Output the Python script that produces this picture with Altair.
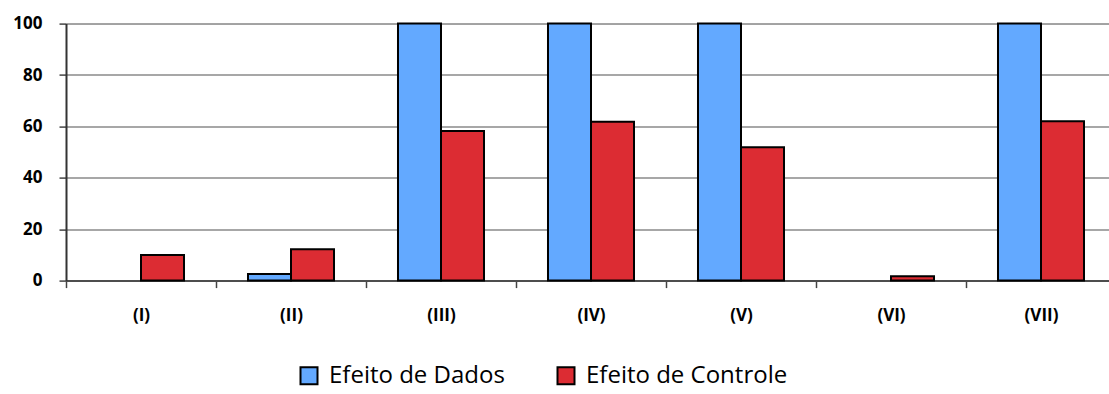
import altair as alt
import pandas as pd

# Categories and the two series (percent)
categories = ["(I)", "(II)", "(III)", "(IV)", "(V)", "(VI)", "(VII)"]
series_names = ["Efeito de Dados", "Efeito de Controle"]
dados = [0, 2.6, 100, 100, 100, 0, 100]
controle = [10, 12.2, 58.2, 61.8, 51.9, 1.7, 62.0]
colors = ["#63A9FF", "#DC2C33"]
y_ticks = [0, 20, 40, 60, 80, 100]

rows = []
for cat, d, c in zip(categories, dados, controle):
    rows.append({"grupo": cat, "serie": series_names[0], "valor": d})
    rows.append({"grupo": cat, "serie": series_names[1], "valor": c})
df = pd.DataFrame(rows)

FONT = "Open Sans"

bars = (
    alt.Chart(df)
    .transform_filter(alt.datum.valor > 0)
    .mark_bar(stroke="black", strokeWidth=2)
    .encode(
        x=alt.X(
            "grupo:N",
            sort=categories,
            scale=alt.Scale(range=[0, 1050], paddingInner=0, paddingOuter=0),
            axis=alt.Axis(
                title=None,
                labelAngle=0,
                tickBand="extent",
                tickSize=7,
                tickColor="#444444",
                tickWidth=1.5,
                domainColor="#4d4d4d",
                domainWidth=2,
                labelPadding=20,
                labelFont=FONT,
                labelFontSize=17,
                labelFontWeight="bold",
                labelColor="black",
                grid=False,
            ),
        ),
        xOffset=alt.XOffset(
            "serie:N",
            sort=series_names,
            scale=alt.Scale(domain=series_names, paddingOuter=0.744, paddingInner=0),
        ),
        y=alt.Y(
            "valor:Q",
            scale=alt.Scale(domain=[0, 100], nice=False),
            axis=alt.Axis(
                title=None,
                values=y_ticks,
                tickSize=7,
                tickColor="#444444",
                tickWidth=1.5,
                domainColor="#333333",
                domainWidth=2,
                labelPadding=17,
                labelFont=FONT,
                labelFontSize=17,
                labelFontWeight="bold",
                labelColor="black",
                grid=True,
                gridColor="#8a8a8a",
                gridWidth=1.5,
            ),
        ),
        color=alt.Color(
            "serie:N",
            sort=series_names,
            scale=alt.Scale(domain=series_names, range=colors),
            legend=alt.Legend(
                title=None,
                orient="none",
                direction="horizontal",
                legendX=231,
                legendY=340,
                symbolType="square",
                symbolSize=289,
                symbolStrokeColor="black",
                symbolStrokeWidth=2,
                symbolOpacity=1,
                labelFont=FONT,
                labelFontSize=24,
                labelColor="black",
                labelOffset=8,
                columnPadding=48,
                labelLimit=400,
            ),
        ),
    )
)

chart = (
    bars.properties(
        width=1043,
        height=257,
        autosize=alt.AutoSizeParams(type="none"),
        padding={"left": 66, "top": 23.6, "right": 0, "bottom": 113.4},
    )
    .configure_view(stroke=None)
    .configure(background="white")
)

chart.save("out.html", embed_options={"renderer": "svg", "actions": False})
